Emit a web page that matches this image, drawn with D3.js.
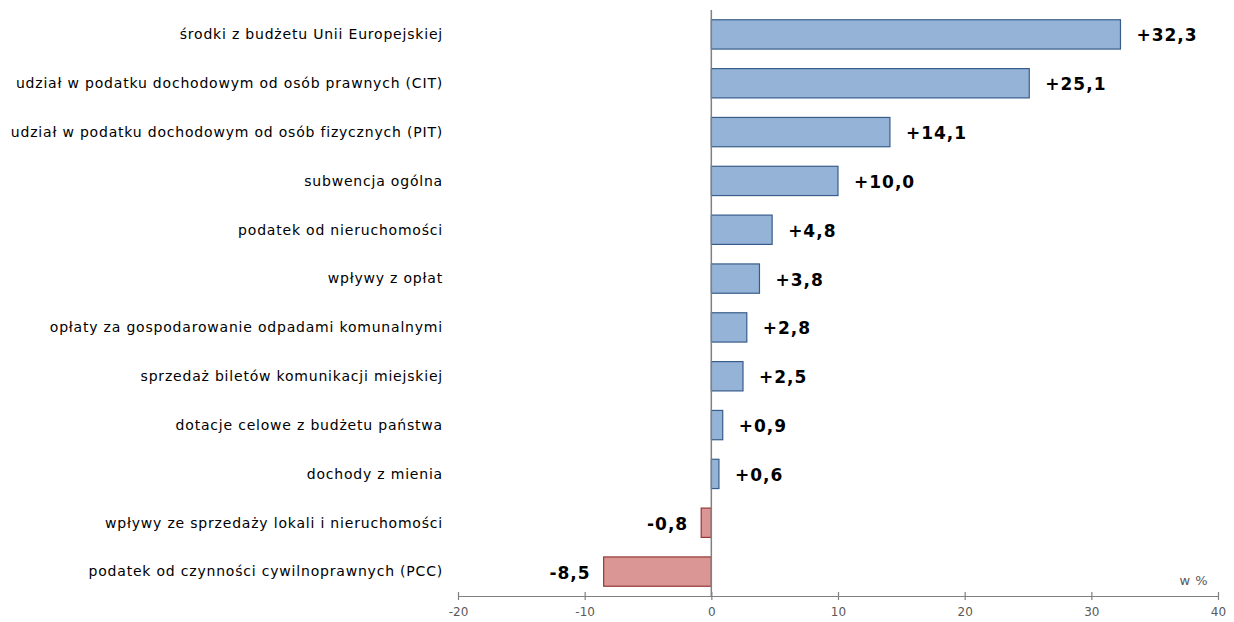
<!DOCTYPE html>
<html>
<head>
<meta charset="utf-8">
<script src="https://cdn.jsdelivr.net/npm/d3@7"></script>
<style>
  body { margin: 0; background: #fff; }
  text { font-family: "DejaVu Sans", Verdana, sans-serif; }
</style>
</head>
<body>
<script>
// chart data
var categories = [
  "środki z budżetu Unii Europejskiej",
  "udział w podatku dochodowym od osób prawnych (CIT)",
  "udział w podatku dochodowym od osób fizycznych (PIT)",
  "subwencja ogólna",
  "podatek od nieruchomości ",
  "wpływy z opłat",
  "opłaty za gospodarowanie odpadami komunalnymi",
  "sprzedaż biletów komunikacji miejskiej",
  "dotacje celowe z budżetu państwa",
  "dochody z mienia",
  "wpływy ze sprzedaży lokali i nieruchomości",
  "podatek od czynności cywilnoprawnych (PCC)"
];
var values = [32.3, 25.1, 14.1, 10.0, 4.8, 3.8, 2.8, 2.5, 0.9, 0.6, -0.8, -8.5];
var xTicks = [-20, -10, 0, 10, 20, 30, 40];

var svgWidth = 1234;
var svgHeight = 622;

var svg = d3.select("body")
  .append("svg")
  .attr("width", svgWidth)
  .attr("height", svgHeight);

var data = categories.map(function(c, i) { return { cat: c, val: values[i] }; });

// scales
var x = d3.scaleLinear().domain([-20, 40]).range([458, 1218]);
var y = d3.scaleBand()
  .domain(categories)
  .range([10, 596])
  .paddingInner(0.4)
  .paddingOuter(0.2);

var axisY = 596;

// bars
svg.selectAll("rect.bar")
  .data(data)
  .enter()
  .append("rect")
  .attr("class", "bar")
  .attr("x", d => x(Math.min(0, d.val)))
  .attr("y", d => y(d.cat))
  .attr("width", d => Math.abs(x(d.val) - x(0)))
  .attr("height", y.bandwidth())
  .attr("fill", d => d.val >= 0 ? "#95b3d7" : "#d99694")
  .attr("stroke", d => d.val >= 0 ? "#385d8a" : "#953735")
  .attr("stroke-width", 1.2);

// zero line
svg.append("line")
  .attr("x1", x(0)).attr("x2", x(0))
  .attr("y1", 10).attr("y2", axisY)
  .attr("stroke", "#808080")
  .attr("stroke-width", 1.5);

// x axis
var xAxis = svg.append("g")
  .attr("transform", `translate(0, ${axisY})`)
  .call(d3.axisBottom(x).tickValues(xTicks).tickSize(0).tickPadding(11)
    .tickFormat(d => String(d)));

xAxis.select(".domain").attr("stroke", "#808080").attr("stroke-width", 1.2);
xAxis.selectAll(".tick line")
  .attr("y1", -4).attr("y2", 4)
  .attr("stroke", "#808080").attr("stroke-width", 1.2);
xAxis.selectAll(".tick text")
  .attr("fill", "#595959")
  .style("font-size", "12px")
  .style("font-family", "DejaVu Sans, Verdana, sans-serif");

// unit label
svg.append("text")
  .attr("x", 1208)
  .attr("y", 585)
  .attr("text-anchor", "end")
  .attr("fill", "#595959")
  .style("font-size", "13px")
  .style("letter-spacing", "0.5px")
  .text("w %");

// category labels
svg.selectAll("text.cat")
  .data(data)
  .enter()
  .append("text")
  .attr("class", "cat")
  .attr("x", 443)
  .attr("y", d => y(d.cat) + y.bandwidth() / 2)
  .attr("dy", "0.35em")
  .attr("text-anchor", "end")
  .attr("fill", "#000")
  .style("font-size", "14px")
  .style("letter-spacing", "0.8px")
  .text(d => d.cat);

// value labels
var fmt = function(v) {
  var s = Math.abs(v).toFixed(1).replace(".", ",");
  return (v >= 0 ? "+" : "-") + s;
};

svg.selectAll("text.val")
  .data(data)
  .enter()
  .append("text")
  .attr("class", "val")
  .attr("x", d => d.val >= 0 ? x(d.val) + 16 : x(d.val) - 13)
  .attr("y", d => y(d.cat) + y.bandwidth() / 2 + 1)
  .attr("dy", "0.35em")
  .attr("text-anchor", d => d.val >= 0 ? "start" : "end")
  .attr("fill", "#000")
  .style("font-size", "17px")
  .style("font-weight", "bold")
  .style("letter-spacing", "1px")
  .text(d => fmt(d.val));
</script>
</body>
</html>
